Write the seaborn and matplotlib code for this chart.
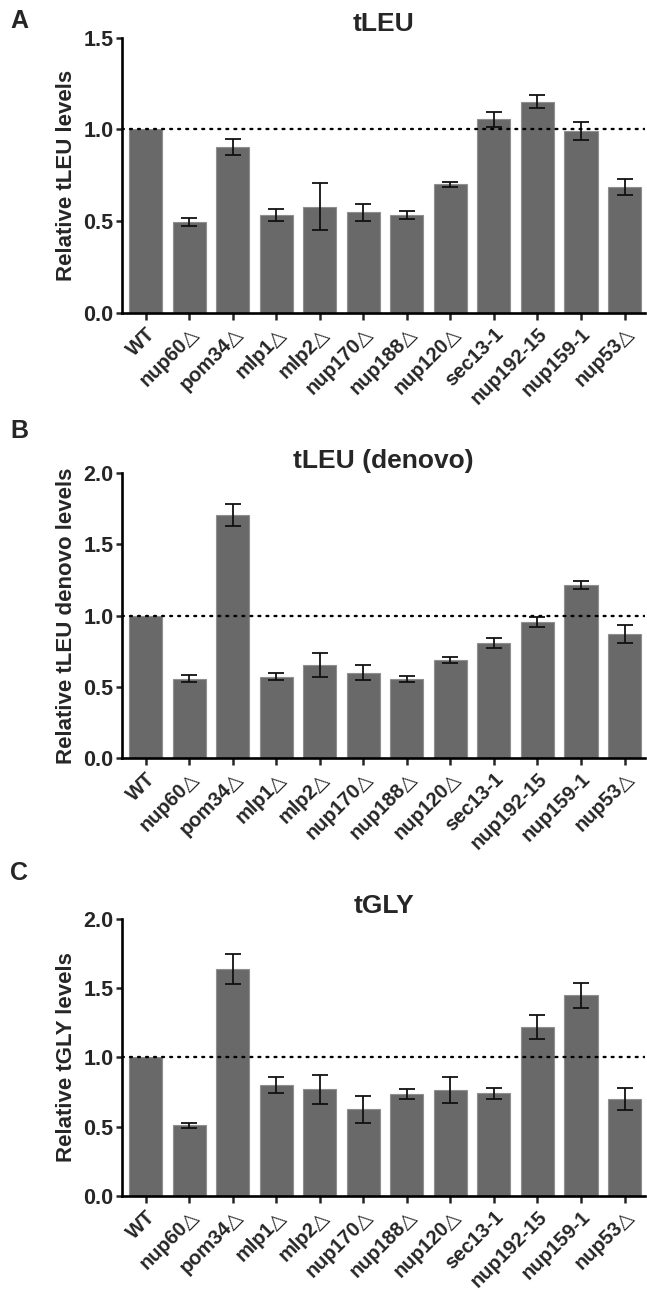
import matplotlib
matplotlib.use("Agg")
import matplotlib.pyplot as plt
import pandas as pd
import seaborn as sns

STRAINS = [
    "WT", "nup60\u25b3", "pom34\u25b3", "mlp1\u25b3", "mlp2\u25b3", "nup170\u25b3",
    "nup188\u25b3", "nup120\u25b3", "sec13-1", "nup192-15", "nup159-1", "nup53\u25b3",
]

TLEU = [1.00, 0.495, 0.905, 0.534, 0.58, 0.548, 0.535, 0.70, 1.055, 1.15, 0.99, 0.685]
TLEU_ERR = [0, 0.02, 0.045, 0.033, 0.13, 0.045, 0.023, 0.015, 0.04, 0.035, 0.05, 0.045]

DENOVO = [1.00, 0.555, 1.705, 0.57, 0.655, 0.60, 0.555, 0.69, 0.808, 0.954, 1.214, 0.87]
DENOVO_ERR = [0, 0.025, 0.075, 0.025, 0.085, 0.05, 0.022, 0.02, 0.035, 0.035, 0.03, 0.06]

TGLY = [1.00, 0.51, 1.64, 0.80, 0.77, 0.625, 0.735, 0.765, 0.74, 1.22, 1.45, 0.70]
TGLY_ERR = [0, 0.02, 0.11, 0.06, 0.105, 0.095, 0.035, 0.095, 0.04, 0.09, 0.09, 0.08]

PANELS = [
    ("A", "tLEU", "Relative tLEU levels", TLEU, TLEU_ERR, 1.5),
    ("B", "tLEU (denovo)", "Relative tLEU denovo levels", DENOVO, DENOVO_ERR, 2.0),
    ("C", "tGLY", "Relative tGLY levels", TGLY, TGLY_ERR, 2.0),
]

# axes rectangles in figure fraction: left, bottom, width, height
RECTS = [
    (0.1886, 0.7574, 0.809, 0.2134),
    (0.1886, 0.4124, 0.809, 0.2209),
    (0.1886, 0.0729, 0.809, 0.2147),
]
TITLE_PAD = [5, 1, 4]
LETTER_Y = [0.984, 0.666, 0.323]

BAR_COLOR = "#696969"

sns.set_style("ticks")
plt.rcParams["font.family"] = ["Liberation Sans", "DejaVu Sans"]
plt.rcParams["font.weight"] = "bold"

fig = plt.figure(figsize=(6.47, 12.9), dpi=100)

for (letter, title, ylabel, vals, errs, ymax), rect, pad, ly in zip(
    PANELS, RECTS, TITLE_PAD, LETTER_Y
):
    ax = fig.add_axes(rect)
    df = pd.DataFrame({"strain": STRAINS, "value": vals, "err": errs})

    sns.barplot(
        data=df, x="strain", y="value",
        color=BAR_COLOR, saturation=1, width=0.76,
        edgecolor="#8f8f8f", linewidth=0.8,
        errorbar=None, ax=ax, zorder=2,
    )

    has_err = df[df["err"] > 0]
    ax.errorbar(
        has_err.index, has_err["value"], yerr=has_err["err"],
        fmt="none", ecolor="#111111", elinewidth=1.3,
        capsize=6, capthick=1.3, zorder=3,
    )

    ax.axhline(1.0, color="black", lw=1.7, ls=(0, (0.8, 2.6)),
               dash_capstyle="round", zorder=4)

    ax.set_xlim(-0.54, 11.48)
    ax.set_ylim(0, ymax)
    ticks = [i * 0.5 for i in range(int(ymax / 0.5) + 1)]
    ax.set_yticks(ticks)
    ax.set_yticklabels([f"{t:.1f}" for t in ticks])

    ax.set_title(title, fontsize=19, fontweight="bold", pad=pad)
    ax.set_xlabel("")
    ax.set_ylabel(ylabel, fontsize=16, fontweight="bold", labelpad=5)

    ax.set_xticks(range(len(STRAINS)))
    ax.set_xticklabels(STRAINS, rotation=45, ha="right",
                       rotation_mode="anchor", fontsize=14.5, fontweight="bold")
    ax.tick_params(axis="y", labelsize=15.5, width=1.8, length=4, pad=2)
    ax.tick_params(axis="x", width=1.8, length=5, pad=3)

    sns.despine(ax=ax)
    for side in ("left", "bottom"):
        ax.spines[side].set_linewidth(1.9)
        ax.spines[side].set_color("black")

    fig.text(0.016, ly, letter, fontsize=18, fontweight="bold",
             ha="left", va="center")

fig.savefig("out.png", dpi=100)
